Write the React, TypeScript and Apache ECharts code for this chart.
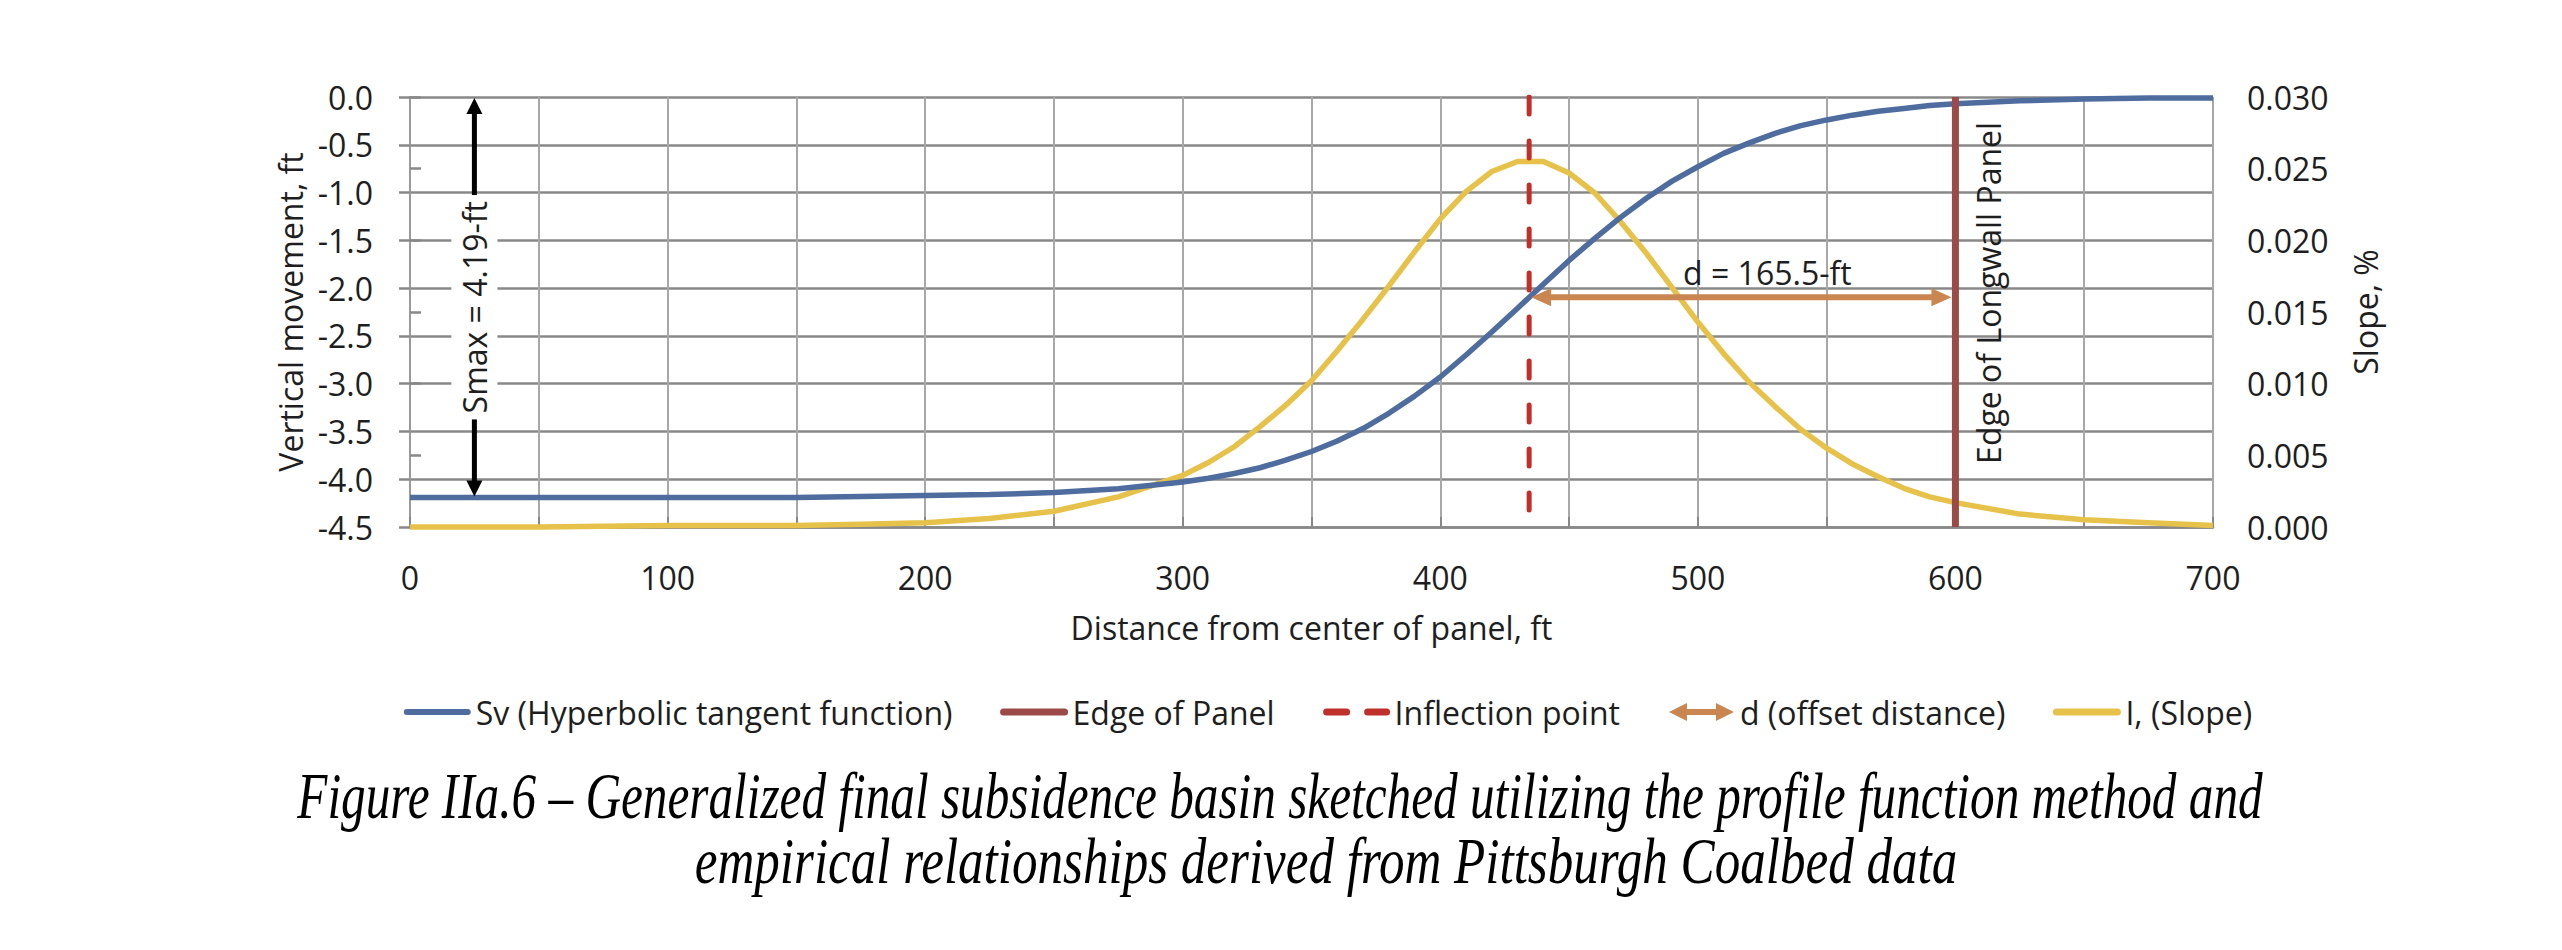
import React, { useEffect, useRef } from "react";
import * as echarts from "echarts";

// ---------- data ----------
const distanceFt = [0, 25, 50, 75, 100, 125, 150, 175, 200, 225, 250, 275, 300,
  310, 320, 330, 340, 350, 360, 370, 380, 390, 400,
  410, 420, 430, 440, 450, 460, 470, 480, 490, 500,
  510, 520, 530, 540, 550, 560, 570, 580, 590, 600,
  625, 650, 675, 700];

const subsidenceFt = [-4.19, -4.19, -4.19, -4.19, -4.19, -4.19, -4.19, -4.18, -4.17, -4.16, -4.14, -4.10, -4.03,
  -3.99, -3.94, -3.88, -3.80, -3.71, -3.60, -3.47, -3.31, -3.13, -2.93,
  -2.70, -2.46, -2.21, -1.96, -1.71, -1.48, -1.26, -1.06, -0.88, -0.73,
  -0.59, -0.48, -0.38, -0.30, -0.24, -0.19, -0.15, -0.12, -0.09, -0.07,
  -0.04, -0.02, -0.01, -0.01];

const slopePct = [0, 0, 0, 0.00005, 0.0001, 0.0001, 0.0001, 0.0002, 0.0003, 0.0006, 0.0011, 0.0021, 0.0036,
  0.0045, 0.0056, 0.0070, 0.0085, 0.0102, 0.0123, 0.0145, 0.0168, 0.0192, 0.0215,
  0.0234, 0.0248, 0.0255, 0.0255, 0.0247, 0.0233, 0.0213, 0.0191, 0.0167, 0.0143,
  0.0121, 0.0101, 0.0084, 0.0068, 0.0055, 0.0044, 0.0035, 0.0027, 0.0021, 0.0017,
  0.0009, 0.0005, 0.0003, 0.0001];

const edgeOfPanelFt = 600;
const inflectionFt = 434.5;
const inflectionSv = -2.095;
const offsetDistanceFt = 165.5;
const smaxFt = 4.19;
const smaxArrowX = 25;
const smaxLabelY = -2.2;
const edgeLabelY = -2.05;
const dLabelX = 527;

const legendLabels = [
  "Sv (Hyperbolic tangent function)",
  "Edge of Panel",
  "Inflection point",
  "d (offset distance)",
  "I, (Slope)",
];

const captionLines = [
  "Figure IIa.6 \u2013 Generalized final subsidence basin sketched utilizing the profile function method and",
  "empirical relationships derived from Pittsburgh Coalbed data",
];

// ---------- styles ----------
const BLUE = "#4E6D9E";
const YELLOW = "#E6C24A";
const BROWN = "#9B4A47";
const RED = "#C0302B";
const ORANGE = "#C98650";
const TEXT = "#1e1e1e";
const FONT = "'Open Sans', sans-serif";
const FS = 32;

export default function App() {
  const ref = useRef<HTMLDivElement>(null);

  useEffect(() => {
    const chart = echarts.init(ref.current!, null, { renderer: "svg" });

    const option: any = {
      animation: false,
      backgroundColor: "#ffffff",
      textStyle: { fontFamily: FONT, color: TEXT },
      grid: { left: 410, top: 97, width: 1803, height: 430 },
      xAxis: [
        {
          type: "value", position: "bottom", min: 0, max: 700, interval: 100,
          axisLine: { show: false }, axisTick: { show: false }, splitLine: { show: false },
          axisLabel: { fontSize: FS, color: TEXT, margin: 34, fontFamily: FONT },
          name: "Distance from center of panel, ft", nameLocation: "middle", nameGap: 84,
          nameTextStyle: { fontSize: FS, color: TEXT, fontFamily: FONT },
        },
        {
          type: "value", position: "top", min: 0, max: 700, interval: 50,
          axisLine: { show: true, lineStyle: { color: "#888888", width: 2.5 } },
          axisTick: { show: true, inside: false, length: 10, lineStyle: { color: "#888888", width: 2 } },
          axisLabel: { show: false },
          splitLine: { show: true, lineStyle: { color: "#A8A8A8", width: 2 } },
        },
      ],
      yAxis: [
        {
          type: "value", position: "left", min: -4.5, max: 0, interval: 0.5,
          axisLine: { show: true, lineStyle: { color: "#9A9A9A", width: 2 } },
          axisTick: { show: true, inside: false, length: 11, lineStyle: { color: "#888888", width: 2.5 } },
          splitLine: { show: true, lineStyle: { color: "#888888", width: 2.5 } },
          axisLabel: { fontSize: FS, color: TEXT, margin: 37, fontFamily: FONT, formatter: (v: number) => v.toFixed(1) },
          name: "Vertical movement, ft", nameLocation: "middle", nameRotate: 90, nameGap: 104,
          nameTextStyle: { fontSize: FS, color: TEXT, fontFamily: FONT },
        },
        {
          type: "value", position: "right", min: 0, max: 0.03, interval: 0.005,
          axisLine: { show: true, lineStyle: { color: "#9A9A9A", width: 2 } },
          axisTick: { show: true, inside: false, length: 11, lineStyle: { color: "#888888", width: 2.5 } },
          splitLine: { show: false },
          axisLabel: { fontSize: FS, color: TEXT, margin: 34, fontFamily: FONT, formatter: (v: number) => v.toFixed(3) },
          name: "Slope, %", nameLocation: "middle", nameRotate: 90, nameGap: 136,
          nameTextStyle: { fontSize: FS, color: TEXT, fontFamily: FONT },
        },
      ],
      series: [
        {
          name: legendLabels[4], type: "line", xAxisIndex: 0, yAxisIndex: 1,
          data: distanceFt.map((d, i) => [d, slopePct[i]]),
          symbol: "none", clip: false, z: 3,
          lineStyle: { color: YELLOW, width: 5.5 },
        },
        {
          name: legendLabels[0], type: "line", xAxisIndex: 0, yAxisIndex: 0,
          data: distanceFt.map((d, i) => [d, subsidenceFt[i]]),
          symbol: "none", clip: false, z: 4,
          lineStyle: { color: BLUE, width: 5.5 },
        },
        {
          name: legendLabels[1], type: "line", xAxisIndex: 0, yAxisIndex: 0,
          data: [[edgeOfPanelFt, 0], [edgeOfPanelFt, -4.5]],
          symbol: "none", z: 5,
          lineStyle: { color: BROWN, width: 7 },
        },
        {
          name: legendLabels[2], type: "line", xAxisIndex: 0, yAxisIndex: 0,
          data: [[inflectionFt, 0], [inflectionFt, -4.5]],
          symbol: "none", z: 6,
          lineStyle: { color: RED, width: 5, type: [17, 27], cap: "round" },
        },
      ],
    };
    chart.setOption(option);

    const ctx = document.createElement("canvas").getContext("2d")!;
    const measure = (t: string, font: string) => { ctx.font = font; return ctx.measureText(t).width; };
    const px = (x: number, y: number) => chart.convertToPixel({ xAxisIndex: 0, yAxisIndex: 0 }, [x, y]) as number[];

    const els: any[] = [];
    const line = (x1: number, y1: number, x2: number, y2: number, color: string, w: number, extra: any = {}) =>
      els.push({ type: "line", z: 100, shape: { x1, y1, x2, y2 }, style: { stroke: color, lineWidth: w, ...extra } });
    const head = (tx: number, ty: number, dx: number, dy: number, L: number, W: number, color: string) => {
      const nx = -dy, ny = dx;
      els.push({
        type: "polygon", z: 101,
        shape: { points: [[tx, ty], [tx - L * dx + W * nx, ty - L * dy + W * ny], [tx - L * dx - W * nx, ty - L * dy - W * ny]] },
        style: { fill: color },
      });
    };
    const text = (t: string, x: number, y: number, opts: any = {}) =>
      els.push({
        type: "text", z: 102, x, y, rotation: opts.rotation || 0,
        style: {
          text: t, fill: opts.fill || TEXT, font: opts.font || `${FS}px ${FONT}`,
          textAlign: opts.align || "center", align: opts.align || "center",
          textVerticalAlign: "middle", verticalAlign: "middle",
        },
      });

    // Smax double arrow
    const sTop = px(smaxArrowX, 0);
    const sBot = px(smaxArrowX, -smaxFt);
    const sLab = px(smaxArrowX, smaxLabelY);
    const smaxText = `Smax = ${smaxFt}-ft`;
    const sHalf = measure(smaxText, `${FS}px ${FONT}`) / 2 + 6;
    els.push({ type: "rect", z: 99, shape: { x: sLab[0] - 23, y: sLab[1] - sHalf, width: 46, height: sHalf * 2 }, style: { fill: "#ffffff" } });
    line(sTop[0], sTop[1] + 12, sTop[0], sLab[1] - sHalf, "#000", 5);
    line(sBot[0], sBot[1] - 12, sBot[0], sLab[1] + sHalf, "#000", 5);
    head(sTop[0], sTop[1] + 1, 0, -1, 16, 8, "#000");
    head(sBot[0], sBot[1] - 1, 0, 1, 16, 8, "#000");
    text(smaxText, sLab[0], sLab[1], { rotation: Math.PI / 2 });

    // d offset double arrow
    const dL = px(inflectionFt, inflectionSv);
    const dR = px(edgeOfPanelFt, inflectionSv);
    line(dL[0] + 14, dL[1], dR[0] - 18, dR[1], ORANGE, 6);
    head(dL[0] + 2, dL[1], -1, 0, 20, 9, ORANGE);
    head(dR[0] - 4, dR[1], 1, 0, 20, 9, ORANGE);
    const dLab = px(dLabelX, inflectionSv);
    text(`d = ${offsetDistanceFt}-ft`, dLab[0], dLab[1] - 25);

    // edge label
    const eLab = px(edgeOfPanelFt, edgeLabelY);
    text("Edge of Longwall Panel", eLab[0] + 33, eLab[1], { rotation: Math.PI / 2 });

    // legend (manual)
    const iconW = 67, iconGap = 5, itemGap = 48, legendY = 712, legendCenter = 1328;
    const widths = legendLabels.map((l) => measure(l, `${FS}px ${FONT}`));
    const total = widths.reduce((a, b) => a + b, 0) + legendLabels.length * (iconW + iconGap) + itemGap * (legendLabels.length - 1);
    let cx = legendCenter - total / 2;
    legendLabels.forEach((lab, i) => {
      const x0 = cx, x1 = cx + iconW;
      if (i === 0) line(x0 + 3, legendY, x1 - 3, legendY, BLUE, 6, { lineCap: "round" });
      if (i === 1) line(x0 + 3, legendY, x1 - 3, legendY, BROWN, 7, { lineCap: "round" });
      if (i === 2) {
        line(x0 + 4, legendY, x0 + 24, legendY, RED, 7, { lineCap: "round" });
        line(x0 + 45, legendY, x0 + 64, legendY, RED, 7, { lineCap: "round" });
      }
      if (i === 3) {
        line(x0 + 14, legendY, x1 - 14, legendY, ORANGE, 6);
        head(x0 + 1, legendY, -1, 0, 18, 9, ORANGE);
        head(x1 - 1, legendY, 1, 0, 18, 9, ORANGE);
      }
      if (i === 4) line(x0 + 3, legendY, x1 - 3, legendY, YELLOW, 7, { lineCap: "round" });
      text(lab, x1 + iconGap, legendY, { align: "left" });
      cx = x1 + iconGap + widths[i] + itemGap;
    });

    // caption
    const capFont = `italic 66px 'Liberation Serif', 'Times New Roman', serif`;
    const capWidths = [1965, 1263];
    const capPos = [[1280, 796], [1326, 861]];
    captionLines.forEach((c, i) => {
      const scaleX = capWidths[i] / measure(c, capFont);
      els.push({
        type: "text", z: 102, x: capPos[i][0], y: capPos[i][1], scaleX, scaleY: 1,
        style: {
          text: c, fill: "#000", font: capFont,
          textAlign: "center", align: "center", textVerticalAlign: "middle", verticalAlign: "middle",
        },
      });
    });

    chart.setOption({ graphic: { elements: els } });

    return () => chart.dispose();
  }, []);

  return (
    <div
      ref={ref}
      style={{ position: "fixed", left: 0, top: 0, width: 2562, height: 950, background: "#fff" }}
    />
  );
}
